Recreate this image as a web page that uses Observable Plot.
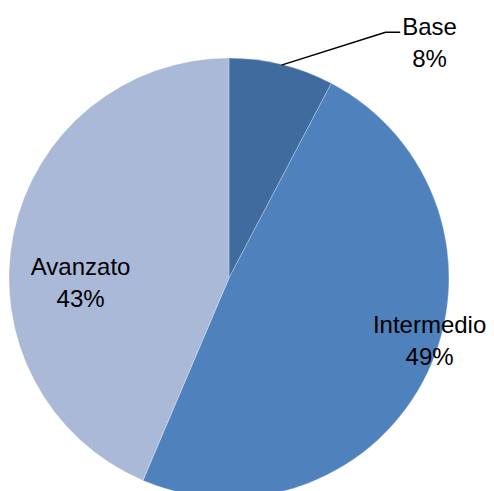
<!DOCTYPE html>
<html><head><meta charset="utf-8">
<script src="https://cdn.jsdelivr.net/npm/d3@7"></script>
<script src="https://cdn.jsdelivr.net/npm/@observablehq/plot@0.6"></script>
<style>html,body{margin:0;padding:0;background:#fff}</style>
</head><body><div id="chart"></div>
<script>
const categories = ["Base", "Intermedio", "Avanzato"];
const values = [7.7, 48.7, 43.6];
const pctLabels = ["8%", "49%", "43%"];
const colors = ["#3f6b9e", "#4f81bd", "#aab9d8"];

// label placement (polar, in units of pie radius; angle in degrees clockwise from 12 o'clock)
const labelPlacement = [{r: 1.412, a: 40.1}, {r: 0.95, a: 106.8}, {r: 0.677, a: 269.1}];

const arcs = d3.pie().sort(null).value(d => d)(values);

const labelData = categories.map((c, i) => {
  const p = labelPlacement[i];
  const t = p.a * Math.PI / 180;
  return {text: c + "\n" + pctLabels[i], x: p.r * Math.sin(t), y: p.r * Math.cos(t)};
});

// leader for the outside label (Base)
const midBase = (arcs[0].startAngle + arcs[0].endAngle) / 2;
const lb = labelData[0];
const leader = [
  {x: Math.sin(midBase), y: Math.cos(midBase)},
  {x: lb.x - 0.2, y: lb.y + 0.039},
  {x: lb.x - 0.136, y: lb.y + 0.039}
];

function pieMark(index, scales) {
  const sx = scales.x, sy = scales.y;
  const cx = sx(0), cy = sy(0), r = Math.abs(sx(1) - sx(0));
  const g = d3.create("svg:g").attr("transform", `translate(${cx},${cy})`);
  const arc = d3.arc().innerRadius(0).outerRadius(r);
  g.selectAll("path").data(arcs).join("path")
    .attr("d", arc)
    .attr("fill", (d, i) => colors[i])
    .attr("stroke", "#ffffff")
    .attr("stroke-opacity", 0.35)
    .attr("stroke-width", 0.75);
  return g.node();
}

const chart = Plot.plot({
  width: 494,
  height: 491,
  margin: 0,
  x: {domain: [-1, 1], range: [9, 449], axis: null},
  y: {domain: [-1, 1], range: [498, 58], axis: null},
  style: {fontFamily: "Liberation Sans, Arial, sans-serif", background: "#fff"},
  marks: [
    pieMark,
    Plot.line(leader, {x: "x", y: "y", stroke: "#000", strokeWidth: 1.5}),
    Plot.text(labelData, {x: "x", y: "y", text: "text", fontSize: 24, lineHeight: 1.33, fill: "#000", textAnchor: "middle", fontFamily: "Liberation Sans, Arial, sans-serif"})
  ]
});
document.getElementById("chart").appendChild(chart);
</script>
</body></html>
